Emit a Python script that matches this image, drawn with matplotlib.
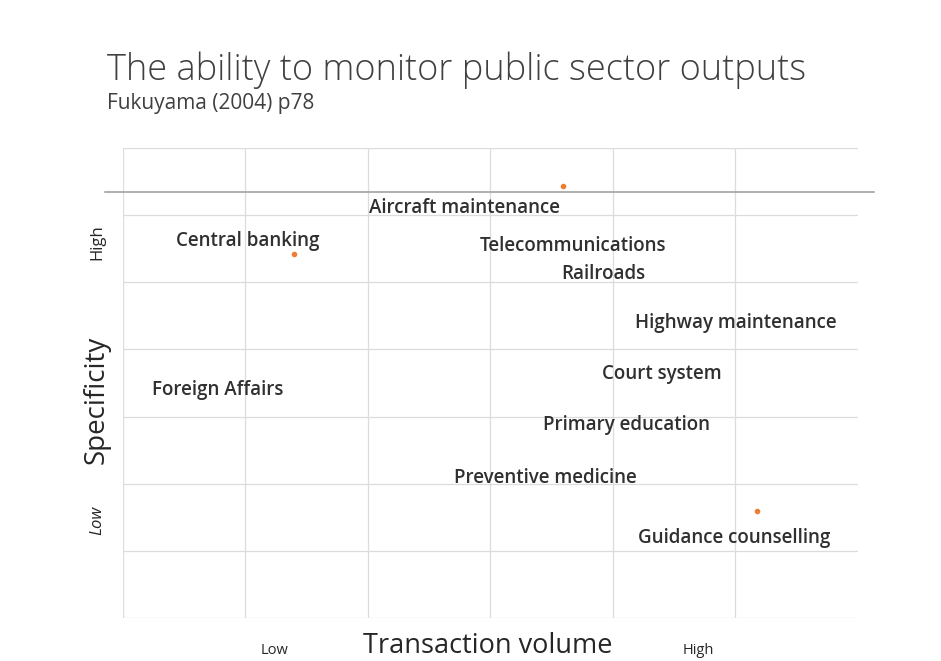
import matplotlib.pyplot as plt
from matplotlib.lines import Line2D

plt.rcParams["font.family"] = ["Open Sans", "DejaVu Sans"]

# marker points (only three visible in the original)
point_x = [3.59, 1.40, 5.18]
point_y = [6.43, 5.42, 1.60]

# category labels and where they sit
labels = ["Aircraft maintenance", "Central banking", "Telecommunications",
          "Railroads", "Highway maintenance", "Court system",
          "Foreign Affairs", "Primary education", "Preventive medicine",
          "Guidance counselling"]
label_x = [2.79, 1.02, 3.67, 3.92, 5.00, 4.40, 0.77, 4.11, 3.45, 4.99]
label_y = [6.10, 5.61, 5.54, 5.12, 4.39, 3.64, 3.39, 2.87, 2.09, 1.19]

x_ticks = [0, 1, 2, 3, 4, 5]
y_ticks = [0, 1, 2, 3, 4, 5, 6, 7]
axis_cross_y = 6.35

fig = plt.figure(figsize=(9.41, 6.61), dpi=100)
ax = fig.add_axes([0.1307, 0.065, 0.781, 0.711])

ax.scatter(point_x, point_y, s=9, color="#ED7D31", zorder=3)
for name, x, y in zip(labels, label_x, label_y):
    ax.text(x, y, name, ha="center", va="center", fontsize=13.5,
            fontweight="semibold", color="#303030")

ax.set_xlim(0, 6)
ax.set_ylim(0, 7)
ax.set_xticks(x_ticks)
ax.set_yticks(y_ticks)
ax.tick_params(length=0, labelbottom=False, labelleft=False)
ax.grid(True, color="#dcdcdc", linewidth=0.9)
for s in ax.spines.values():
    s.set_visible(False)

# the horizontal axis line, a bit wider than the plot area
y_ax = ax.transLimits.transform((0, axis_cross_y))[1]
ax.add_line(Line2D([-0.025, 1.022], [y_ax, y_ax], transform=ax.transAxes,
                   color="#9a9a9a", linewidth=1.1, clip_on=False))

fig.text(0.1137, 0.893, "The ability to monitor public sector outputs",
         fontsize=26, color="#404040", va="center", fontweight="light")
fig.text(0.1137, 0.843, "Fukuyama (2004) p78", fontsize=15,
         color="#404040", va="center")

fig.text(0.103, 0.395, "Specificity", rotation=90, fontsize=20,
         ha="center", va="center", color="#262626")
fig.text(0.103, 0.633, "High", rotation=90, fontsize=12,
         ha="center", va="center", color="#262626")
fig.text(0.103, 0.213, "Low", rotation=90, fontsize=12, style="italic",
         ha="center", va="center", color="#262626")

fig.text(0.518, 0.023, "Transaction volume", fontsize=19.5,
         ha="center", va="center", color="#262626")
fig.text(0.292, 0.016, "Low", fontsize=10.5, ha="center", va="center",
         color="#262626")
fig.text(0.742, 0.016, "High", fontsize=10.5, ha="center", va="center",
         color="#262626")

fig.savefig("out.png", dpi=100)
